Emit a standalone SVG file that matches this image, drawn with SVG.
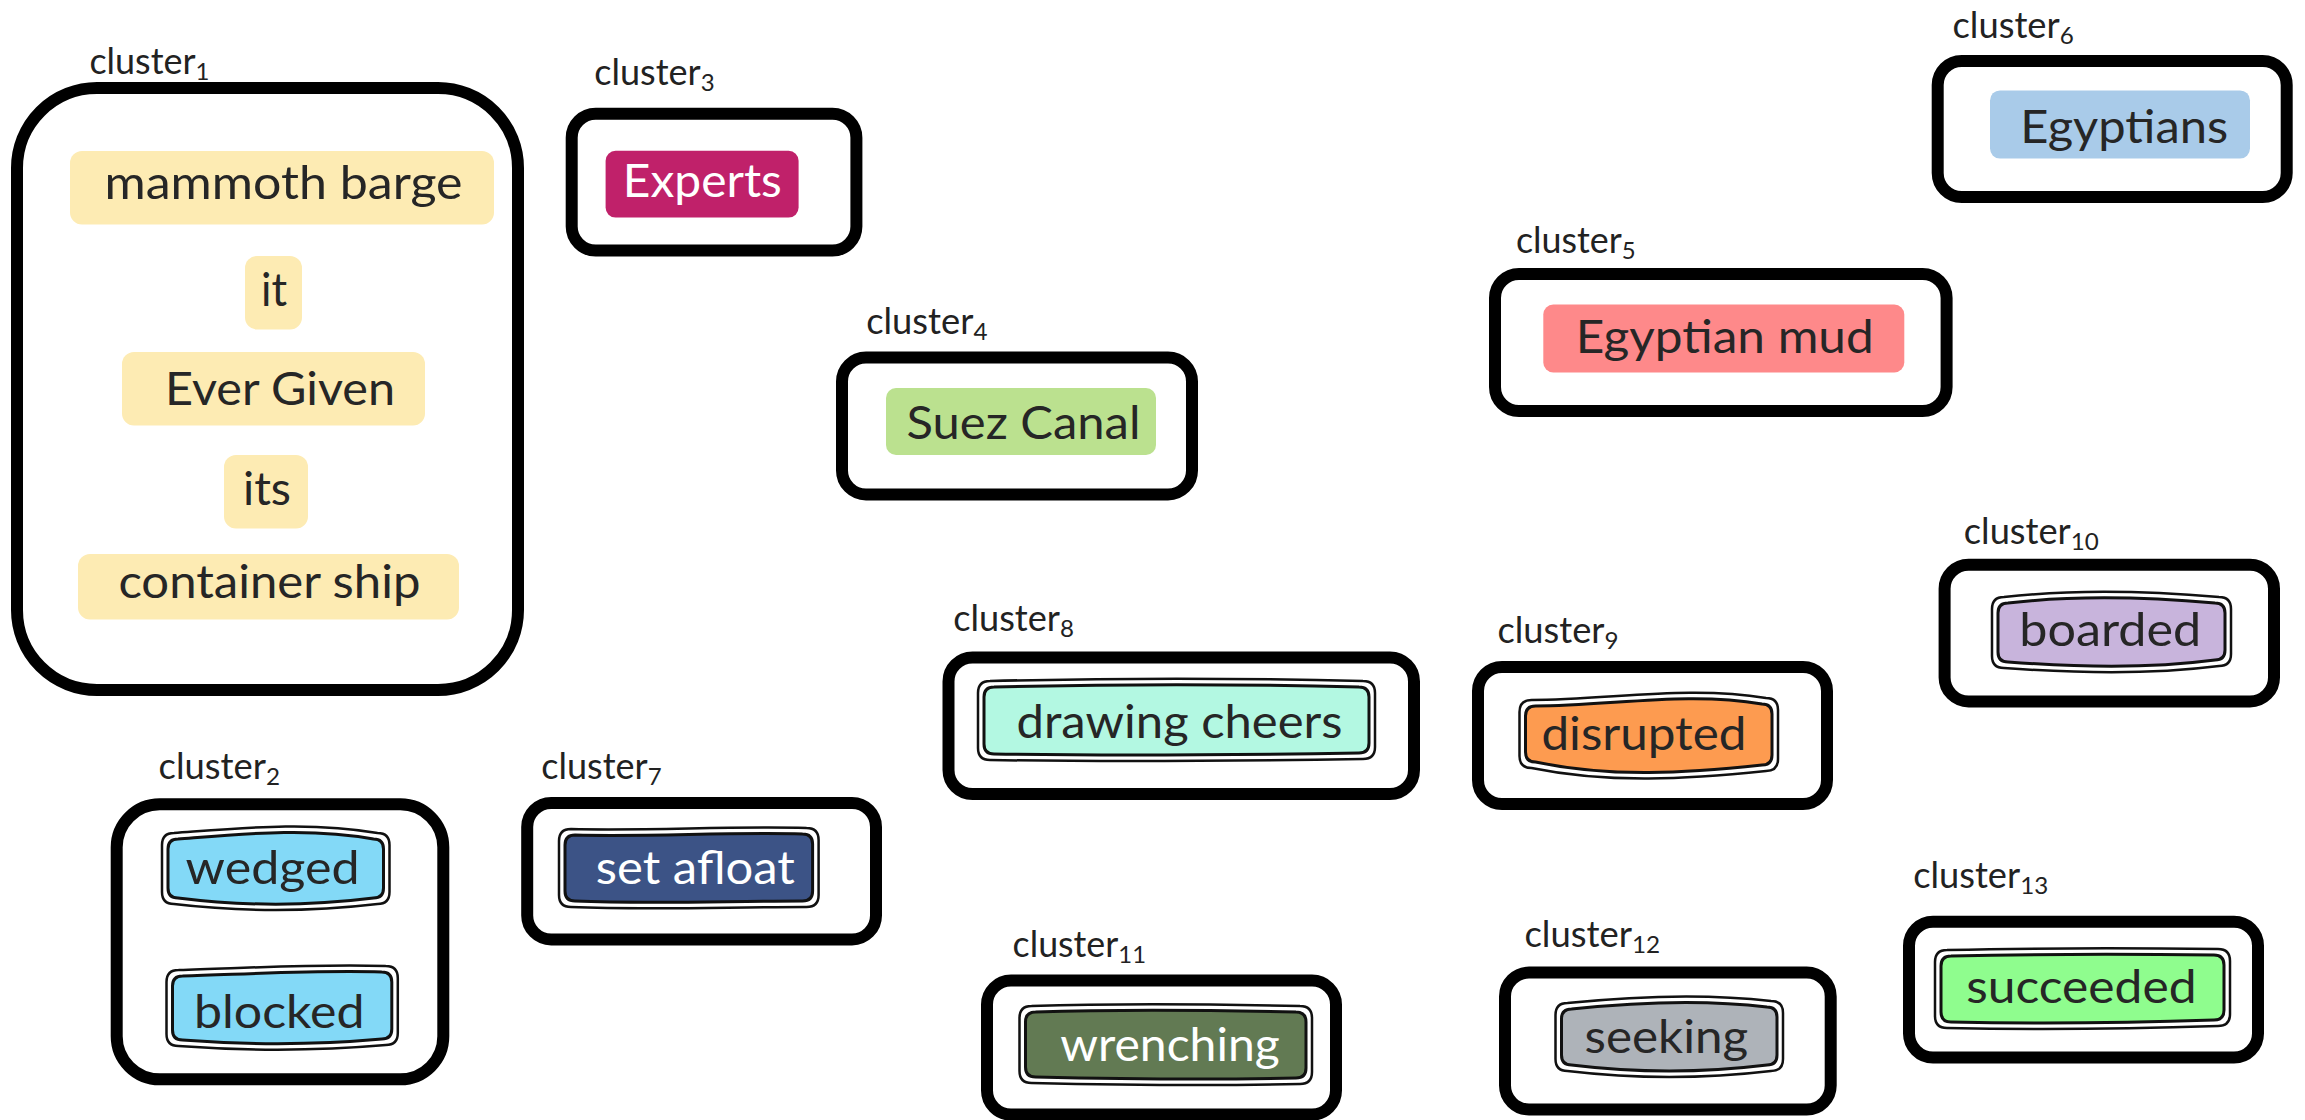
<svg xmlns="http://www.w3.org/2000/svg" width="2305" height="1120" viewBox="0 0 2305 1120">
  <style>
    .cluster { fill: #ffffff; stroke: #000000; stroke-width: 12; }
    .clabel { font-family: Lato, "Liberation Sans", sans-serif; font-size: 36px; fill: #222222; }
    .sub { font-size: 24px; }
    .tag { stroke: none; }
    .ntext { font-family: Lato, "Liberation Sans", sans-serif; font-size: 46px; fill: #262626; }
    .light { fill: #ffffff; }
    .rim { fill: #ffffff; stroke: #111111; stroke-width: 2.5; stroke-linejoin: round; }
    .core { stroke: #111111; stroke-width: 3; stroke-linejoin: round; }
  </style>
  <rect width="2305" height="1120" fill="#ffffff"/>

  <!-- cluster frames with their captions -->
  <g id="cluster1">
    <rect class="cluster" x="17" y="88" width="501" height="602" rx="80"/>
    <text class="clabel" x="89.4" y="73.7" textLength="120" lengthAdjust="spacingAndGlyphs">cluster<tspan class="sub" dy="6">1</tspan></text>
  </g>
  <g id="cluster2">
    <rect class="cluster" x="116.7" y="804.3" width="326.6" height="275" rx="43"/>
    <text class="clabel" x="158.6" y="778.8" textLength="121.4" lengthAdjust="spacingAndGlyphs">cluster<tspan class="sub" dy="6">2</tspan></text>
  </g>
  <g id="cluster3">
    <rect class="cluster" x="571.7" y="113.7" width="284.7" height="136.8" rx="24"/>
    <text class="clabel" x="594.3" y="84.5" textLength="120.3" lengthAdjust="spacingAndGlyphs">cluster<tspan class="sub" dy="6">3</tspan></text>
  </g>
  <g id="cluster4">
    <rect class="cluster" x="842" y="357.6" width="350" height="136.8" rx="24"/>
    <text class="clabel" x="866.2" y="334" textLength="121.3" lengthAdjust="spacingAndGlyphs">cluster<tspan class="sub" dy="6">4</tspan></text>
  </g>
  <g id="cluster5">
    <rect class="cluster" x="1495" y="274" width="451.6" height="137" rx="24"/>
    <text class="clabel" x="1516" y="253" textLength="119.7" lengthAdjust="spacingAndGlyphs">cluster<tspan class="sub" dy="6">5</tspan></text>
  </g>
  <g id="cluster6">
    <rect class="cluster" x="1937.7" y="61" width="349" height="136" rx="24"/>
    <text class="clabel" x="1952.5" y="38.3" textLength="121.3" lengthAdjust="spacingAndGlyphs">cluster<tspan class="sub" dy="6">6</tspan></text>
  </g>
  <g id="cluster7">
    <rect class="cluster" x="527.2" y="803" width="348.8" height="136.4" rx="24"/>
    <text class="clabel" x="541.3" y="778.8" textLength="120.3" lengthAdjust="spacingAndGlyphs">cluster<tspan class="sub" dy="6">7</tspan></text>
  </g>
  <g id="cluster8">
    <rect class="cluster" x="948.5" y="657.5" width="465.5" height="136.5" rx="24"/>
    <text class="clabel" x="953.2" y="631" textLength="120.8" lengthAdjust="spacingAndGlyphs">cluster<tspan class="sub" dy="6">8</tspan></text>
  </g>
  <g id="cluster9">
    <rect class="cluster" x="1478" y="667" width="349" height="137" rx="24"/>
    <text class="clabel" x="1497.5" y="643.4" textLength="121" lengthAdjust="spacingAndGlyphs">cluster<tspan class="sub" dy="6">9</tspan></text>
  </g>
  <g id="cluster10">
    <rect class="cluster" x="1944.6" y="564.8" width="329.4" height="136.6" rx="24"/>
    <text class="clabel" x="1963.8" y="544.2" textLength="135" lengthAdjust="spacingAndGlyphs">cluster<tspan class="sub" dy="6">10</tspan></text>
  </g>
  <g id="cluster11">
    <rect class="cluster" x="987" y="980.6" width="349" height="134" rx="24"/>
    <text class="clabel" x="1012.6" y="956.6" textLength="133.4" lengthAdjust="spacingAndGlyphs">cluster<tspan class="sub" dy="6">11</tspan></text>
  </g>
  <g id="cluster12">
    <rect class="cluster" x="1505" y="972.5" width="325.7" height="137" rx="24"/>
    <text class="clabel" x="1524.4" y="946.8" textLength="135.8" lengthAdjust="spacingAndGlyphs">cluster<tspan class="sub" dy="6">12</tspan></text>
  </g>
  <g id="cluster13">
    <rect class="cluster" x="1909" y="921.7" width="349" height="135.8" rx="24"/>
    <text class="clabel" x="1913.2" y="887.8" textLength="135" lengthAdjust="spacingAndGlyphs">cluster<tspan class="sub" dy="6">13</tspan></text>
  </g>

  <!-- plain tag nodes -->
  <g id="node-mammoth-barge">
    <rect class="tag" x="70" y="151" width="424" height="73.5" rx="12" fill="#fdebb3"/>
    <text class="ntext" x="104.5" y="199" textLength="358" lengthAdjust="spacingAndGlyphs">mammoth barge</text>
  </g>
  <g id="node-it">
    <rect class="tag" x="245" y="256" width="57" height="73.5" rx="12" fill="#fdebb3"/>
    <text class="ntext" x="261" y="305.5" textLength="26" lengthAdjust="spacingAndGlyphs">it</text>
  </g>
  <g id="node-ever-given">
    <rect class="tag" x="122" y="352" width="303" height="73.5" rx="12" fill="#fdebb3"/>
    <text class="ntext" x="165" y="405" textLength="230" lengthAdjust="spacingAndGlyphs">Ever Given</text>
  </g>
  <g id="node-its">
    <rect class="tag" x="224" y="455" width="84" height="73.5" rx="12" fill="#fdebb3"/>
    <text class="ntext" x="243" y="505" textLength="48" lengthAdjust="spacingAndGlyphs">its</text>
  </g>
  <g id="node-container-ship">
    <rect class="tag" x="78" y="554" width="381" height="65.5" rx="12" fill="#fdebb3"/>
    <text class="ntext" x="118.4" y="598" textLength="302" lengthAdjust="spacingAndGlyphs">container ship</text>
  </g>
  <g id="node-experts">
    <rect class="tag" x="605.6" y="150.8" width="193" height="66.8" rx="10" fill="#c0216a"/>
    <text class="ntext light" x="622.8" y="196.5" textLength="159" lengthAdjust="spacingAndGlyphs">Experts</text>
  </g>
  <g id="node-suez-canal">
    <rect class="tag" x="886" y="388" width="270" height="67" rx="10" fill="#bbe18f"/>
    <text class="ntext" x="906.5" y="438.6" textLength="234" lengthAdjust="spacingAndGlyphs">Suez Canal</text>
  </g>
  <g id="node-egyptian-mud">
    <rect class="tag" x="1543.3" y="304.5" width="361" height="68" rx="10" fill="#fe898a"/>
    <text class="ntext" x="1575.7" y="352.7" textLength="298" lengthAdjust="spacingAndGlyphs">Egyptian mud</text>
  </g>
  <g id="node-egyptians">
    <rect class="tag" x="1990" y="90.4" width="260" height="68.2" rx="10" fill="#a9cbe9"/>
    <text class="ntext" x="2020.2" y="143.4" textLength="208" lengthAdjust="spacingAndGlyphs">Egyptians</text>
  </g>

  <!-- hand-drawn double-outline nodes -->
  <g id="node-wedged">
    <path class="rim" d="M174,833 C241.8,828 309.7,821 377.5,833 Q389.5,833 389.5,845 L389.5,892 Q389.5,904 377.5,904 C309.7,912 241.8,912 174,904 Q162,904 162,892 L162,845 Q162,833 174,833 Z"/>
    <path class="core" fill="#83d9f7" d="M178,839 C241.8,834 309.7,827 373.5,839 Q383.5,839 383.5,849 L383.5,888 Q383.5,898 373.5,898 C309.7,906 241.8,906 178,898 Q168,898 168,888 L168,849 Q168,839 178,839 Z"/>
    <text class="ntext" x="185.6" y="884.4" textLength="174" lengthAdjust="spacingAndGlyphs">wedged</text>
  </g>
  <g id="node-blocked">
    <path class="rim" d="M178.5,970 C247.6,968 309.7,964 385.8,966 Q397.8,966 397.8,978 L397.8,1033 Q397.8,1045 385.8,1045 C316.7,1051 247.6,1051 178.5,1046 Q166.5,1046 166.5,1034 L166.5,982 Q166.5,970 178.5,970 Z"/>
    <path class="core" fill="#83d9f7" d="M182.5,976 C248.9,974 315.4,970 381.8,972 Q391.8,972 391.8,982 L391.8,1029 Q391.8,1039 381.8,1039 C315.4,1045 248.9,1045 182.5,1040 Q172.5,1040 172.5,1030 L172.5,986 Q172.5,976 182.5,976 Z"/>
    <text class="ntext" x="194" y="1027.8" textLength="170.5" lengthAdjust="spacingAndGlyphs">blocked</text>
  </g>
  <g id="node-set-afloat">
    <path class="rim" d="M571,829 C649.5,831 728.1,826 806.6,828 Q818.6,828 818.6,840 L818.6,895 Q818.6,907 806.6,907 C728.1,907 649.5,910 571,907 Q559,907 559,895 L559,841 Q559,829 571,829 Z"/>
    <path class="core" fill="#3c5386" d="M575,835 C650.9,837 726.7,832 802.6,834 Q812.6,834 812.6,844 L812.6,891 Q812.6,901 802.6,901 C726.7,901 650.9,904 575,901 Q565,901 565,891 L565,845 Q565,835 575,835 Z"/>
    <text class="ntext light" x="595.8" y="883.9" textLength="199" lengthAdjust="spacingAndGlyphs">set afloat</text>
  </g>
  <g id="node-drawing-cheers">
    <path class="rim" d="M990,681 C1114.3,678 1238.7,678 1363,681 Q1375,681 1375,693 L1375,747 Q1375,759 1363,759 C1238.7,761 1114.3,762 990,760 Q978,760 978,748 L978,693 Q978,681 990,681 Z"/>
    <path class="core" fill="#b3f8e2" d="M994,687 C1115.7,684 1237.3,684 1359,687 Q1369,687 1369,697 L1369,743 Q1369,753 1359,753 C1237.3,755 1115.7,756 994,754 Q984,754 984,744 L984,697 Q984,687 994,687 Z"/>
    <text class="ntext" x="1016.5" y="738" textLength="326" lengthAdjust="spacingAndGlyphs">drawing cheers</text>
  </g>
  <g id="node-disrupted">
    <path class="rim" d="M1531.5,700 C1609.7,700 1687.8,685 1766,698 Q1778,698 1778,710 L1778,759 Q1778,771 1766,771 C1687.8,779 1609.7,784 1531.5,768 Q1519.5,768 1519.5,756 L1519.5,712 Q1519.5,700 1531.5,700 Z"/>
    <path class="core" fill="#fd9b50" d="M1535.5,706 C1611,706 1686.5,691 1762,704 Q1772,704 1772,714 L1772,755 Q1772,765 1762,765 C1686.5,773 1611,778 1535.5,762 Q1525.5,762 1525.5,752 L1525.5,716 Q1525.5,706 1535.5,706 Z"/>
    <text class="ntext" x="1541.4" y="750.3" textLength="205" lengthAdjust="spacingAndGlyphs">disrupted</text>
  </g>
  <g id="node-boarded">
    <path class="rim" d="M2004,597 C2075.7,589 2147.3,591 2219,597 Q2231,597 2231,609 L2231,654 Q2231,666 2219,666 C2147.3,675 2075.7,673 2004,668 Q1992,668 1992,656 L1992,609 Q1992,597 2004,597 Z"/>
    <path class="core" fill="#c8b4dc" d="M2008,603 C2077,595 2146,597 2215,603 Q2225,603 2225,613 L2225,650 Q2225,660 2215,660 C2146,669 2077,667 2008,662 Q1998,662 1998,652 L1998,613 Q1998,603 2008,603 Z"/>
    <text class="ntext" x="2019.3" y="645.9" textLength="182" lengthAdjust="spacingAndGlyphs">boarded</text>
  </g>
  <g id="node-wrenching">
    <path class="rim" d="M1031.5,1006 C1121,1003 1210.5,1004 1300,1006 Q1312,1006 1312,1018 L1312,1072 Q1312,1084 1300,1084 C1210.5,1086 1121,1085 1031.5,1083 Q1019.5,1083 1019.5,1071 L1019.5,1018 Q1019.5,1006 1031.5,1006 Z"/>
    <path class="core" fill="#627a53" d="M1035.5,1012 C1122.3,1009 1209.2,1010 1296,1012 Q1306,1012 1306,1022 L1306,1068 Q1306,1078 1296,1078 C1209.2,1080 1122.3,1079 1035.5,1077 Q1025.5,1077 1025.5,1067 L1025.5,1022 Q1025.5,1012 1035.5,1012 Z"/>
    <text class="ntext light" x="1060.2" y="1060.7" textLength="219.6" lengthAdjust="spacingAndGlyphs">wrenching</text>
  </g>
  <g id="node-seeking">
    <path class="rim" d="M1567.5,1003 C1635.3,996 1703.2,993 1771,1001 Q1783,1001 1783,1013 L1783,1059 Q1783,1071 1771,1071 C1703.2,1079 1635.3,1079 1567.5,1071 Q1555.5,1071 1555.5,1059 L1555.5,1015 Q1555.5,1003 1567.5,1003 Z"/>
    <path class="core" fill="#aeb3b9" d="M1571.5,1009 C1636.7,1002 1701.8,999 1767,1007 Q1777,1007 1777,1017 L1777,1055 Q1777,1065 1767,1065 C1701.8,1073 1636.7,1073 1571.5,1065 Q1561.5,1065 1561.5,1055 L1561.5,1019 Q1561.5,1009 1571.5,1009 Z"/>
    <text class="ntext" x="1584.6" y="1053.3" textLength="163.6" lengthAdjust="spacingAndGlyphs">seeking</text>
  </g>
  <g id="node-succeeded">
    <path class="rim" d="M1947,950 C2037.3,948 2127.7,948 2218,949 Q2230,949 2230,961 L2230,1014 Q2230,1026 2218,1026 C2127.7,1029 2037.3,1030 1947,1028 Q1935,1028 1935,1016 L1935,962 Q1935,950 1947,950 Z"/>
    <path class="core" fill="#8ffd8e" d="M1951,956 C2038.7,954 2126.3,954 2214,955 Q2224,955 2224,965 L2224,1010 Q2224,1020 2214,1020 C2126.3,1023 2038.7,1024 1951,1022 Q1941,1022 1941,1012 L1941,966 Q1941,956 1951,956 Z"/>
    <text class="ntext" x="1966.2" y="1003.2" textLength="230.4" lengthAdjust="spacingAndGlyphs">succeeded</text>
  </g>

  <!-- no edges are drawn between the clusters -->
  <g id="connectors"/>
</svg>
